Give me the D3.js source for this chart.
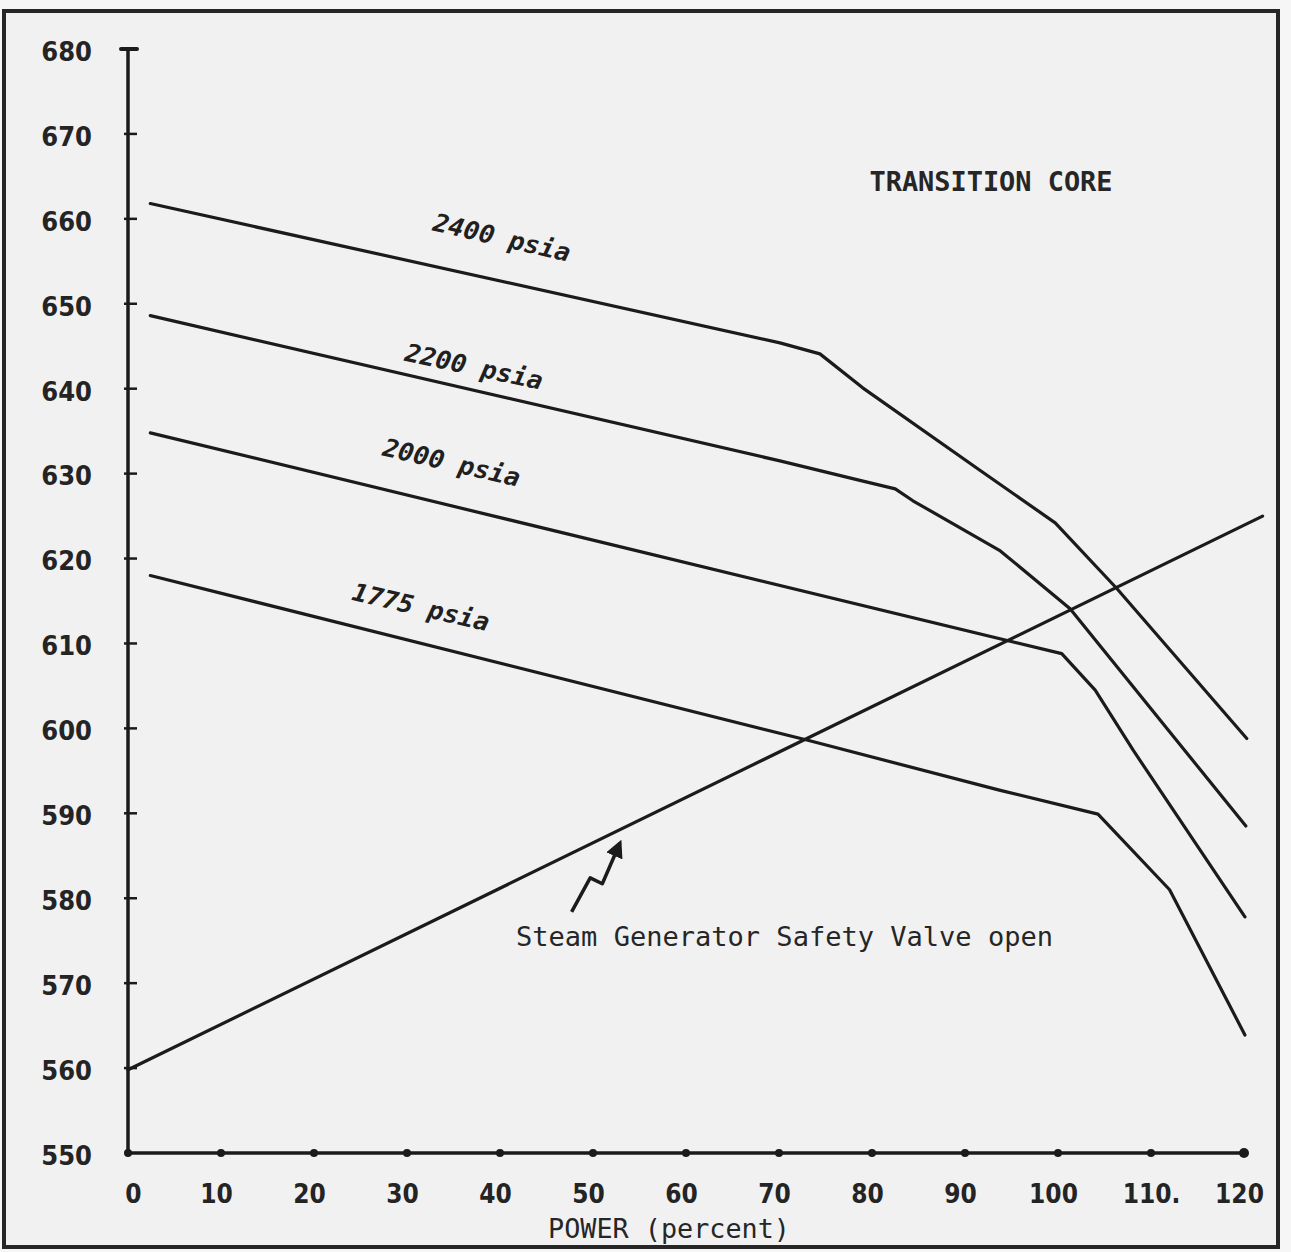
<!DOCTYPE html>
<html>
<head>
<meta charset="utf-8">
<script src="https://cdn.jsdelivr.net/npm/d3@7"></script>
<style>
  html, body { margin: 0; padding: 0; background: #f4f4f4; }
  svg { display: block; }
</style>
</head>
<body>
<svg id="chart" width="1291" height="1252"></svg>
<script>
// ---------------- DATA ----------------
const xTicks = [0, 10, 20, 30, 40, 50, 60, 70, 80, 90, 100, 110, 120];
const xTickLabels = ["0", "10", "20", "30", "40", "50", "60", "70", "80", "90", "100", "110.", "120"];
const yTicks = [550, 560, 570, 580, 590, 600, 610, 620, 630, 640, 650, 660, 670, 680];
const yTickLabels = ["550", "560", "570", "580", "590", "600", "610", "620", "630", "640", "650", "660", "670", "680"];

// [power %, temperature]
const psia2400 = [[2.4, 661.8], [70.1, 645.4], [74.4, 644.1], [79.0, 640.1],
                  [91.6, 630.4], [99.7, 624.2], [106.3, 616.5], [120.3, 598.8]];
const psia2200 = [[2.4, 648.6], [70.1, 631.5], [78.7, 629.2], [82.5, 628.2], [84.4, 626.8],
                  [93.8, 620.9], [101.3, 614.1], [120.2, 588.5]];
const psia2000 = [[2.4, 634.8], [100.4, 608.8], [104.0, 604.5], [108.1, 597.4], [120.1, 577.8]];
const psia1775 = [[2.4, 618.0], [73.1, 598.6], [93.8, 592.7], [104.3, 589.9], [112.0, 581.0], [120.1, 563.9]];
const safetyValve = [[0, 559.8], [122, 625.0]];

const curveNames = ["2400 psia", "2200 psia", "2000 psia", "1775 psia"];
// label anchor [power, temp], rotation deg
const curveLabelPos = [[40.2, 657.8], [37.2, 642.6], [34.8, 631.3], [31.5, 614.3]];
const curveLabelRot = [13, 12, 13, 13];

const arrowPath = [[47.7, 578.4], [49.7, 582.4], [51.0, 581.7], [52.9, 586.5]];

const titleText = "TRANSITION CORE";
const valveText = "Steam Generator Safety Valve open";
const xTitle = "POWER (percent)";

// ---------------- CHART ----------------
const svg = d3.select("#chart");
const ink = "#1b1b1b";

svg.append("rect").attr("x", 0).attr("y", 0).attr("width", 1291).attr("height", 1252).attr("fill", "#f6f6f6");
// outer frame
svg.append("rect").attr("x", 4).attr("y", 11).attr("width", 1274).attr("height", 1236)
  .attr("fill", "#f1f1f1").attr("stroke", "#262626").attr("stroke-width", 4);

const x = d3.scaleLinear().domain([0, 120]).range([128, 1244]);
const y = d3.scaleLinear().domain([550, 680]).range([1153, 49]);

// Y axis
const yAxis = d3.axisLeft(y).tickValues(yTicks).tickSize(0).tickFormat((d, i) => yTickLabels[i]);
const gy = svg.append("g").attr("transform", `translate(${x(0)},0)`).call(yAxis);
gy.select(".domain").remove();
gy.selectAll("text")
  .attr("x", -36).attr("dy", "0.42em")
  .attr("font-family", "'DejaVu Sans Condensed', 'DejaVu Sans', sans-serif")
  .attr("font-stretch", "condensed")
  .attr("font-weight", "bold").attr("font-size", 27).attr("fill", "#242424");
svg.append("line").attr("x1", x(0)).attr("x2", x(0)).attr("y1", y(680)).attr("y2", y(550))
  .attr("stroke", ink).attr("stroke-width", 3.5);
svg.append("line").attr("x1", x(0) - 7).attr("x2", x(0) + 9).attr("y1", y(680)).attr("y2", y(680))
  .attr("stroke", ink).attr("stroke-width", 4).attr("stroke-linecap", "round");
svg.append("g").selectAll("line").data(yTicks.slice(1, -1)).join("line")
  .attr("x1", x(0) - 4).attr("x2", x(0) + 9).attr("y1", d => y(d)).attr("y2", d => y(d))
  .attr("stroke", ink).attr("stroke-width", 2.5);

// X axis
const xAxis = d3.axisBottom(x).tickValues(xTicks).tickSize(0).tickFormat((d, i) => xTickLabels[i]);
const gx = svg.append("g").attr("transform", `translate(0,${y(550)})`).call(xAxis);
gx.select(".domain").remove();
gx.selectAll("text")
  .attr("y", 50).attr("dy", 0)
  .attr("transform", (d, i) => `translate(${i === 0 ? 5 : (xTickLabels[i].endsWith(".") ? 0 : -5)},0)`)
  .attr("font-family", "'DejaVu Sans Condensed', 'DejaVu Sans', sans-serif")
  .attr("font-stretch", "condensed")
  .attr("font-weight", "bold").attr("font-size", 26).attr("fill", "#242424");
svg.append("line").attr("x1", x(0)).attr("x2", x(120)).attr("y1", y(550)).attr("y2", y(550))
  .attr("stroke", ink).attr("stroke-width", 3.5);
svg.append("g").selectAll("circle").data(xTicks).join("circle")
  .attr("cx", d => x(d)).attr("cy", y(550)).attr("r", (d) => d === 120 ? 5 : 4).attr("fill", ink);

// Curves
const line = d3.line().x(d => x(d[0])).y(d => y(d[1]));
const series = [psia2400, psia2200, psia2000, psia1775, safetyValve];
svg.append("g").selectAll("path").data(series).join("path")
  .attr("d", line).attr("fill", "none").attr("stroke", ink)
  .attr("stroke-width", 3.2).attr("stroke-linejoin", "round").attr("stroke-linecap", "round");

// Curve labels
svg.append("g").selectAll("text").data(curveNames).join("text")
  .attr("transform", (d, i) => `translate(${x(curveLabelPos[i][0])},${y(curveLabelPos[i][1])}) rotate(${curveLabelRot[i]})`)
  .attr("text-anchor", "middle").attr("dy", "0.35em")
  .attr("font-family", "'DejaVu Sans Mono', monospace").attr("font-weight", "bold")
  .attr("font-style", "italic").attr("font-size", 25).attr("fill", "#202020")
  .attr("textLength", 140).attr("lengthAdjust", "spacingAndGlyphs")
  .text(d => d);

// Title
svg.append("text").attr("x", 991).attr("y", 191).attr("text-anchor", "middle")
  .attr("font-family", "'DejaVu Sans Mono', monospace").attr("font-weight", "bold")
  .attr("font-size", 26).attr("fill", "#262626")
  .attr("textLength", 243).attr("lengthAdjust", "spacingAndGlyphs").text(titleText);

// Valve annotation
svg.append("text").attr("x", 516).attr("y", 946)
  .attr("font-family", "'DejaVu Sans Mono', monospace")
  .attr("font-size", 26).attr("fill", "#262626")
  .attr("textLength", 537).attr("lengthAdjust", "spacingAndGlyphs").text(valveText);

// Arrow
svg.append("defs").append("marker").attr("id", "ah").attr("viewBox", "0 0 10 10")
  .attr("refX", 8).attr("refY", 5).attr("markerWidth", 5).attr("markerHeight", 5)
  .attr("orient", "auto").append("path").attr("d", "M0,0 L10,5 L0,10 Z").attr("fill", ink);
svg.append("path").attr("d", line(arrowPath)).attr("fill", "none").attr("stroke", ink)
  .attr("stroke-width", 3.5).attr("stroke-linejoin", "round").attr("marker-end", "url(#ah)");

// X title
svg.append("text").attr("x", 669).attr("y", 1238).attr("text-anchor", "middle")
  .attr("font-family", "'DejaVu Sans Mono', monospace")
  .attr("font-size", 26).attr("fill", "#262626")
  .attr("textLength", 242).attr("lengthAdjust", "spacingAndGlyphs").text(xTitle);
</script>
</body>
</html>
